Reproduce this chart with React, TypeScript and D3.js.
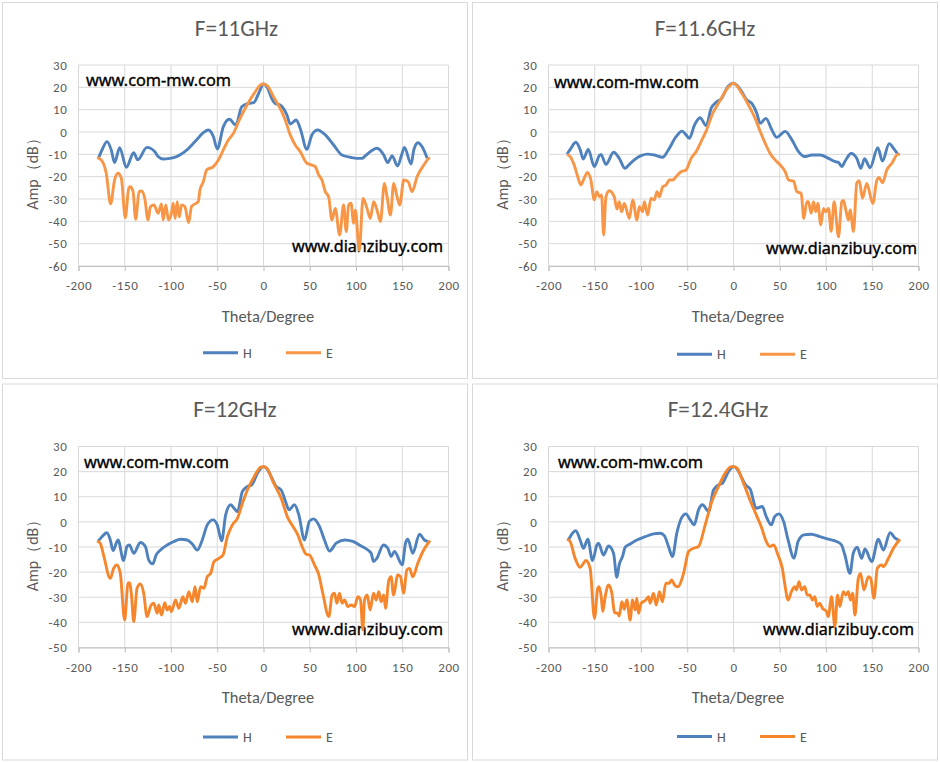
import React, { useEffect, useRef } from 'react';
import * as d3 from 'd3';

type Pt = [number, number];

// chart titles and axis ranges
const titles = ['F=11GHz', 'F=11.6GHz', 'F=12GHz', 'F=12.4GHz'];
const yMins = [-60, -60, -50, -50];
const xTicks = [-200, -150, -100, -50, 0, 50, 100, 150, 200];
const seriesNames = ['H', 'E'];

// F=11GHz, [theta, amp dB]
const h11: Pt[] = [
  [-178, -11.3], [-174, -7.5], [-169.3, -4.3], [-164.6, -8], [-161, -13.7], [-155.5, -7], [-148.3, -15.8],
  [-140.3, -9.3], [-136, -12.5], [-126, -6.9], [-117.5, -8.8], [-114, -11], [-108.5, -12.1], [-101.3, -11.8],
  [-94, -11], [-85, -8.8], [-74, -4.3], [-65, -0.3], [-59.7, 0.9], [-54.2, -2], [-50, -7.6], [-43.4, 2.4],
  [-36.9, 5.7], [-30, 3.1], [-23.5, 11.3], [-16.3, 12.8], [-10.5, 13.2], [-5, 17.5], [0, 21.5], [4, 20],
  [9, 15], [12.6, 12.8], [18, 12.1], [25.3, 7.6], [28.9, 3.6], [35.4, 5.4], [39.7, 1.6], [46.9, -7.8],
  [52.3, -1.3], [58.5, 0.9], [66.8, -1.3], [75.8, -5.8], [84.8, -10.3], [93.9, -11.3], [101, -11.8],
  [106.5, -11.8], [110, -10.7], [115.5, -8.8], [122.7, -7.3], [130, -10.3], [134.3, -13.7], [139, -10.7],
  [145, -15.2], [149.8, -9.6], [152.3, -6.9], [159.6, -14.3], [162.5, -8], [167, -4.8], [171.5, -6.6],
  [177, -11.8],
];
const e11: Pt[] = [
  [-180, -11.5], [-175.4, -12.5], [-170, -18.5], [-165.3, -32.2], [-161, -21.5], [-157.3, -18.5],
  [-153.7, -20.7], [-149.4, -38.4], [-145.7, -25.2], [-144, -24.5], [-141, -26.7], [-138.2, -39.1],
  [-134.5, -26.7], [-132, -26.4], [-128.4, -29.7], [-124.8, -39.4], [-122.2, -33.4], [-118.3, -32.7],
  [-114, -36.4], [-110.3, -32.2], [-108.5, -39.4], [-105.6, -32.7], [-102.7, -39.4], [-99.5, -36.4],
  [-97.6, -31.9], [-95.5, -38.7], [-93.3, -31.2], [-91.1, -38], [-88.6, -32.7], [-85, -33.4], [-81, -40.6],
  [-77.8, -33.4], [-74.1, -32.2], [-70.5, -31.2], [-68.7, -26], [-65, -22.2], [-61.5, -17], [-54.2, -15.5],
  [-48.8, -12.5], [-43.4, -8], [-38, -3.6], [-32.5, -0.6], [-27, 4.6], [-18, 12], [-9, 18], [-3.6, 21],
  [0, 21.5], [4, 20.8], [10.8, 15.8], [18, 10.6], [23.5, 5.4], [28.9, -1.3], [34.3, -5.8], [39.7, -8.8],
  [46.9, -14], [52.3, -14.8], [56, -15.5], [59.6, -19.2], [63.2, -21.5], [66.8, -26.7], [70.4, -29],
  [74, -39.4], [77.6, -34.2], [82.3, -46.1], [86.6, -32.7], [89.5, -44.6], [92, -32.7], [94.6, -31.9],
  [97.5, -40.9], [99.3, -34.9], [103.6, -53], [107.6, -29.7], [111.9, -34.2], [115.5, -38.7], [119.1, -31.2],
  [122.7, -34.9], [126.4, -40.1], [130.7, -23], [133.6, -29], [137.2, -37.2], [140.8, -23], [144.4, -29],
  [147.3, -32.7], [151.6, -21.5], [156.3, -22.2], [160.6, -26.7], [166.1, -20], [173.3, -14.8],
  [178.7, -11.8], [180, -11.5],
];

// F=11.6GHz
const h116: Pt[] = [
  [-180, -10], [-175.8, -7.3], [-170.4, -4.6], [-165.7, -8], [-162.5, -12.1], [-157, -7.8], [-150.5, -15.5],
  [-145.1, -10.6], [-143.3, -10], [-137.9, -14.5], [-129.6, -9.1], [-123.5, -11.8], [-117.3, -16.3],
  [-112.6, -14.5], [-107.2, -12.5], [-100, -10.6], [-92.8, -9.9], [-85.6, -10.3], [-76.5, -11.3],
  [-71.1, -8.5], [-62.1, -2.1], [-55.6, 0.4], [-51.3, -1.3], [-47.7, -2.8], [-42.2, 3.1], [-36.1, 6.4],
  [-29.6, 2.8], [-24.2, 10.6], [-18.8, 13.3], [-13.4, 14.8], [-6.1, 20.3], [0, 21.8], [4, 20.8], [9, 18],
  [14.4, 14.3], [19.8, 12.8], [25.2, 8.4], [28.8, 3.9], [35, 6.1], [41.4, 1], [46.8, -2.4], [55.9, 0.3],
  [63, -3.4], [70.3, -8.8], [76.8, -11], [84.7, -10.3], [93.7, -10.3], [102.7, -11.8], [110, -13.3],
  [113.5, -13.6], [117.1, -15.5], [120.7, -13], [127.2, -9.6], [133.3, -11.8], [137.7, -16.3],
  [141.6, -11.9], [147.7, -16], [156, -7], [161, -13], [168.3, -5.2], [173, -7.3], [177.7, -10],
];
const e116: Pt[] = [
  [-180, -10], [-176.5, -11], [-172.2, -14.8], [-167.9, -20.7], [-165, -23.7], [-161.4, -20.7],
  [-157.8, -18.1], [-154.2, -21.5], [-150.5, -30.4], [-147.7, -26.7], [-145, -29], [-142.6, -28.2],
  [-140.4, -46.1], [-137.9, -29], [-134.3, -26.3], [-128.9, -29], [-126, -34.5], [-123.5, -31.2],
  [-121, -35.7], [-118, -32], [-112.6, -38.7], [-109, -30.4], [-104.3, -39.4], [-101.8, -33.4],
  [-98.2, -35.7], [-96.4, -31.2], [-92.8, -37.2], [-89.2, -29.7], [-85.6, -30.4], [-82.7, -26.7],
  [-80.1, -29], [-76.5, -24.5], [-72.9, -23.7], [-69.3, -21.5], [-65.7, -21.5], [-62.1, -20],
  [-56.7, -17.8], [-51.3, -17], [-45.8, -11.8], [-40.4, -8.8], [-35, -4.3], [-29.6, 0.4], [-22.4, 8.4],
  [-15.2, 13.6], [-7.9, 18.8], [0, 21.8], [4, 20.5], [9, 17.3], [16.2, 12.1], [23.4, 6.1], [28.8, 0.3],
  [34.2, -5], [39.6, -9.6], [45, -12.5], [50.5, -14.8], [55.9, -17.8], [59.5, -21.5], [64.9, -22],
  [68.5, -26.7], [73.2, -27.5], [76, -38.7], [79.3, -31.2], [81, -31.2], [84, -36.4], [86.5, -31.2],
  [89, -35.7], [91.2, -32], [94.4, -41.6], [97.3, -34.2], [99.8, -35.7], [102.7, -34.2], [105.6, -44.5],
  [108.8, -31.2], [113.5, -46.9], [117.1, -31.2], [118.9, -30.7], [121.4, -34.9], [124.3, -39.4],
  [126.1, -34.9], [129.7, -44.5], [133.3, -22.8], [135.9, -21.8], [139.5, -29.7], [144.1, -23],
  [150.6, -32], [155, -21.5], [157.5, -20.4], [161, -22.8], [165.8, -17], [171.2, -14], [177.7, -10],
  [180, -10],
];

// F=12GHz
const h12: Pt[] = [
  [-178.3, -7.5], [-174.7, -5.9], [-169.3, -4.3], [-165.6, -7.2], [-162.7, -11.4], [-157.3, -7.2],
  [-151.2, -15.4], [-147.6, -9.8], [-145, -9.2], [-140.3, -12.5], [-133.1, -8.2], [-127.7, -9.8],
  [-124.1, -15.2], [-119.7, -16.7], [-116.1, -13.2], [-111.4, -11.2], [-104.2, -9.2], [-96.9, -7.8],
  [-89.7, -6.9], [-82.5, -7.2], [-77, -8.8], [-71.6, -11.2], [-66.2, -7.2], [-60.8, -1.2], [-54.6, 0.8],
  [-50, -1.2], [-45.2, -7.5], [-40.9, 2.8], [-35.4, 6.8], [-31.8, 5.4], [-28.2, 4.1], [-22.8, 12.1],
  [-17.4, 14.1], [-12.7, 14.7], [-6.5, 19.4], [0, 22], [4, 21], [8.3, 18], [13.7, 14.1], [19.1, 12.7],
  [24.5, 7.4], [27.4, 4.8], [33.5, 6.8], [38.2, 2.8], [44.3, -7.2], [49.7, 0.3], [54.1, 1.2], [60.5, -1.8],
  [65.9, -7.2], [71.4, -11.6], [78.6, -8.5], [87.6, -7.2], [96.6, -7.8], [105.6, -9.6], [112.8, -11.2],
  [116.4, -12.5], [118.9, -15.8], [122.5, -14.5], [129.7, -9.2], [134.4, -10.5], [138, -13.8],
  [141.6, -11.8], [150, -17.1], [153.5, -8.5], [156, -6.9], [161.4, -12.5], [168.6, -4.9], [174, -7.2],
  [177.7, -7.8],
];
const e12: Pt[] = [
  [-180, -7.6], [-176.5, -8.5], [-172.9, -13.2], [-165.6, -22.5], [-162, -18.5], [-158.4, -17.1],
  [-154.8, -20.5], [-150.1, -39.1], [-146.5, -24.4], [-145, -24.2], [-142.9, -28.4], [-140.3, -39.7],
  [-136.7, -26.4], [-133.1, -24.7], [-129.5, -28.4], [-125.9, -37.7], [-122.2, -33.7], [-118.6, -32.4],
  [-115, -36.4], [-113.2, -33.1], [-110.3, -37.1], [-106.7, -32.2], [-104.2, -35.1], [-101.6, -33.7],
  [-99.5, -35.7], [-95.1, -31.1], [-91.5, -34.4], [-87.2, -29.8], [-84.3, -32.4], [-80.7, -27.8],
  [-77, -31.8], [-74.1, -25.8], [-71.6, -31.8], [-68, -25.8], [-64.4, -26.4], [-60.8, -21.8],
  [-57.1, -20.5], [-53.5, -15.8], [-48.1, -14.5], [-43.8, -13.2], [-39.1, -5.9], [-33.6, -1.2],
  [-28.2, 1.4], [-22.8, 7.4], [-17.4, 12.7], [-10.1, 18], [-2.9, 21.8], [0, 22], [4, 21.2], [10.1, 16.1],
  [19.1, 9.4], [26.3, 1.6], [31.7, -1.7], [37.1, -5.2], [42.5, -10.5], [46.1, -12.9], [49.7, -13.2],
  [55.1, -17.1], [59.8, -21.1], [64.1, -28.4], [70.6, -37.7], [74.2, -29.1], [76.8, -28.4], [79.3, -32.4],
  [82.2, -28.4], [85, -32.4], [87.6, -31.1], [91.2, -33.7], [94.8, -33.1], [98.4, -33.7], [102, -29.8],
  [104.9, -31.1], [107.4, -43], [109.2, -31.1], [112.1, -29.1], [115.3, -35.1], [118.9, -28.4],
  [121.8, -31.1], [124.7, -27.8], [127.2, -31.8], [130.1, -29.1], [131.9, -34.4], [135.5, -23.1],
  [138, -21.8], [140.5, -29.1], [145.2, -21.1], [148.1, -21.8], [151.4, -28.4], [155, -19.1],
  [157.8, -18.5], [161.4, -21.8], [166.8, -16.5], [172.3, -11.8], [180, -7.5],
];

// F=12.4GHz
const h124: Pt[] = [
  [-178.4, -7.2], [-174.8, -4.9], [-170.5, -3.5], [-165.8, -7.2], [-162.2, -10.5], [-157.5, -6.9],
  [-152.4, -15.4], [-147.7, -9.2], [-146, -8.5], [-140.5, -13.2], [-135.1, -9.6], [-129.7, -12.5],
  [-126.1, -22.1], [-123.6, -17.1], [-120, -13.8], [-117.1, -10.1], [-111.7, -8.8], [-104.5, -7.2],
  [-95.5, -5.9], [-86.5, -4.8], [-79.3, -4.5], [-74.6, -5.6], [-70.3, -9.8], [-66, -13.8], [-61.3, -4.5],
  [-55.9, 1.8], [-51.5, 3.2], [-46.8, 0.8], [-42.5, -1.2], [-37.8, 4.8], [-33.5, 6.8], [-28.8, 4.8],
  [-27, 4.1], [-21.6, 12.7], [-16.2, 14.7], [-11.9, 15.4], [-5.4, 20], [0, 22], [4, 21], [8.3, 18],
  [13, 14.7], [18.1, 13], [24.6, 5.4], [31.1, 6.1], [35.4, 2.1], [40.9, -1.2], [44.5, 2.1], [49.2, 3.2],
  [54.2, 0.1], [59, -7.2], [65.5, -14.5], [69.8, -7.8], [76, -5.2], [84.3, -4.9], [93.3, -5.9],
  [102.4, -6.9], [111.4, -7.8], [116.8, -9.2], [120.4, -13.2], [125.9, -20.5], [129.5, -12.5],
  [133.8, -10.1], [138.5, -14.5], [142.1, -10.8], [149.4, -15.8], [156.6, -6.9], [162, -11.2],
  [169.3, -4.3], [174.7, -6.5], [178.3, -7.2],
];
const e124: Pt[] = [
  [-180, -6.9], [-176.6, -7.8], [-171.2, -14.5], [-165.8, -18.1], [-162.2, -16.5], [-159.6, -15.4],
  [-155, -18.5], [-150.3, -38.4], [-146.7, -26.4], [-145.2, -25.8], [-143, -29.8], [-141.3, -35.7],
  [-138.7, -29.8], [-135.1, -25.1], [-131.5, -28.4], [-128.6, -36.1], [-125, -36.4], [-123.6, -37.5],
  [-120.7, -31.8], [-118.2, -34.8], [-115.3, -31.1], [-111.7, -39.1], [-109.2, -31.1], [-106.3, -35.1],
  [-104.5, -30.4], [-102.7, -36.4], [-99.8, -32.4], [-94.8, -31.1], [-91.9, -29.8], [-90.1, -32.4],
  [-86.5, -28.4], [-83.6, -33.1], [-80, -27.8], [-76.8, -31.8], [-73.2, -24.4], [-69.5, -24.4],
  [-66.7, -23.1], [-63.8, -25.1], [-60.2, -25.8], [-54, -20.5], [-48.6, -11.8], [-43.2, -10.5],
  [-37.8, -9.8], [-30.6, -1.2], [-23.4, 8.1], [-16.2, 14.1], [-9, 19.4], [-2.5, 22], [0, 22], [4, 21.3],
  [10.1, 16.1], [19.2, 7.4], [24.6, 2.8], [30, -1.9], [35.4, -7.8], [39.1, -9.8], [43.4, -9.2],
  [48.1, -13.2], [52.8, -18.5], [55.3, -24.4], [59, -31.1], [62.6, -27.8], [66.2, -25.8], [68, -27.1],
  [70.9, -23.8], [73.4, -27.1], [77, -25.8], [79.6, -29.1], [82.5, -29.1], [85.4, -31.1], [87.9, -29.8],
  [90.4, -33.7], [93.3, -32.4], [96.2, -34.4], [100.5, -35.7], [102.4, -37.7], [106, -29.8],
  [109.6, -41.7], [112.5, -29.1], [115, -33.7], [118.6, -27.8], [121.5, -29.1], [124.1, -27.8],
  [126.6, -31.1], [128.8, -28.4], [131.3, -37.1], [134.9, -22.5], [137.4, -20.5], [141, -27.1],
  [145.8, -21.8], [148.3, -22.5], [151.9, -30.4], [155.5, -18.5], [160.2, -17.1], [162, -17.8],
  [167.5, -14.5], [172.9, -10.5], [180, -6.9],
];

const hSeries = [h11, h116, h12, h124];
const eSeries = [e11, e116, e12, e124];

// layout of each of the four excel-style chart boxes
const layout = [
  { ox: 0, oy: 0, titleX: 236.5, legendX: 203, legendY: 352.7, mw: [86, 86], dz: [292, 252], orange: '#F79646' },
  { ox: 470, oy: 0, titleX: 235, legendX: 207, legendY: 354.3, mw: [84, 88], dz: [296, 254], orange: '#F79646' },
  { ox: 0, oy: 381.5, titleX: 235, legendX: 203, legendY: 355.5, mw: [84, 86], dz: [292, 253.5], orange: '#F5862C' },
  { ox: 470, oy: 381.5, titleX: 248, legendX: 207, legendY: 355, mw: [88, 86], dz: [293, 253.5], orange: '#F5862C' },
];

const BLUE = '#4F81BD';
const TEXT = '#595959';
const FONT = 'Carlito, Calibri, Lato, sans-serif';

const App: React.FC = () => {
  const svgRef = useRef<SVGSVGElement | null>(null);

  useEffect(() => {
    if (!svgRef.current) return;
    const svg = d3.select(svgRef.current);
    svg.selectAll('*').remove();

    const left = 78.5, right = 448.5, top = 65, bottom = 266;

    layout.forEach((L, i) => {
      const g = svg.append('g').attr('transform', `translate(${L.ox},${L.oy})`);

      g.append('rect')
        .attr('x', 2.5).attr('y', 2.5).attr('width', 465).attr('height', 376)
        .attr('fill', '#fff').attr('stroke', '#d9d9d9');

      const x = d3.scaleLinear().domain([-200, 200]).range([left, right]);
      const y = d3.scaleLinear().domain([yMins[i], 30]).range([bottom, top]);
      const yTicks = d3.range(yMins[i], 31, 10);

      // gridlines
      g.append('g').selectAll('line.h').data(yTicks).enter().append('line')
        .attr('x1', left).attr('x2', right)
        .attr('y1', d => y(d)).attr('y2', d => y(d))
        .attr('stroke', '#d9d9d9');
      g.append('g').selectAll('line.v').data(xTicks).enter().append('line')
        .attr('x1', d => x(d)).attr('x2', d => x(d))
        .attr('y1', top).attr('y2', bottom)
        .attr('stroke', '#d9d9d9');

      // x axis
      const xa = g.append('g').attr('transform', `translate(0,${bottom})`)
        .call(d3.axisBottom(x).tickValues(xTicks).tickSize(5).tickPadding(10).tickFormat(d => String(d)));
      xa.select('.domain').attr('stroke', '#bfbfbf');
      xa.selectAll('.tick line').attr('stroke', '#bfbfbf');
      xa.selectAll('text').attr('fill', TEXT)
        .style('font', `13px ${FONT}`).style('letter-spacing', '0.6px');

      // y axis
      const ya = g.append('g').attr('transform', `translate(${left},0)`)
        .call(d3.axisLeft(y).tickValues(yTicks).tickSize(0).tickPadding(11).tickFormat(d => String(d)));
      ya.select('.domain').remove();
      ya.selectAll('text').attr('fill', TEXT)
        .style('font', `13px ${FONT}`).style('letter-spacing', '0.6px');

      // watermarks
      g.append('text').attr('x', L.mw[0]).attr('y', L.mw[1])
        .attr('textLength', 145).attr('lengthAdjust', 'spacingAndGlyphs')
        .attr('fill', '#000').attr('stroke', '#000').attr('stroke-width', 0.35)
        .style('font', '16px "Noto Sans", sans-serif')
        .text('www.com-mw.com');
      g.append('text').attr('x', L.dz[0]).attr('y', L.dz[1])
        .attr('textLength', 151).attr('lengthAdjust', 'spacingAndGlyphs')
        .attr('fill', '#000').attr('stroke', '#000').attr('stroke-width', 0.35)
        .style('font', '16px "Noto Sans", sans-serif')
        .text('www.dianzibuy.com');

      // series
      const line = d3.line<Pt>()
        .x(d => x(d[0]))
        .y(d => y(d[1]))
        .curve(d3.curveMonotoneX);
      g.append('path').datum(hSeries[i])
        .attr('d', line).attr('fill', 'none')
        .attr('stroke', BLUE).attr('stroke-width', 2.9).attr('stroke-linejoin', 'round');
      g.append('path').datum(eSeries[i])
        .attr('d', line).attr('fill', 'none')
        .attr('stroke', L.orange).attr('stroke-width', 2.9).attr('stroke-linejoin', 'round');

      // titles
      g.append('text').attr('x', L.titleX).attr('y', 35.5)
        .attr('text-anchor', 'middle').attr('fill', TEXT)
        .style('font', `23px ${FONT}`).text(titles[i]);
      g.append('text').attr('x', 268).attr('y', 321.5)
        .attr('text-anchor', 'middle').attr('fill', TEXT)
        .style('font', `16.5px ${FONT}`).text('Theta/Degree');
      g.append('text').attr('transform', 'translate(38,170) rotate(-90)')
        .attr('text-anchor', 'middle').attr('fill', TEXT)
        .style('font', `16px ${FONT}`).text('Amp（dB）');

      // legend
      const colors = [BLUE, L.orange];
      seriesNames.forEach((name, k) => {
        const lx = L.legendX + k * 83;
        g.append('line')
          .attr('x1', lx).attr('x2', lx + 35)
          .attr('y1', L.legendY).attr('y2', L.legendY)
          .attr('stroke', colors[k]).attr('stroke-width', 3);
        g.append('text').attr('x', lx + 40).attr('y', L.legendY + 5)
          .attr('fill', TEXT).style('font', `14px ${FONT}`).text(name);
      });
    });
  }, []);

  return (
    <svg
      ref={svgRef}
      width={940}
      height={762}
      style={{ position: 'absolute', left: 0, top: 0, background: '#fff' }}
    />
  );
};

export default App;
